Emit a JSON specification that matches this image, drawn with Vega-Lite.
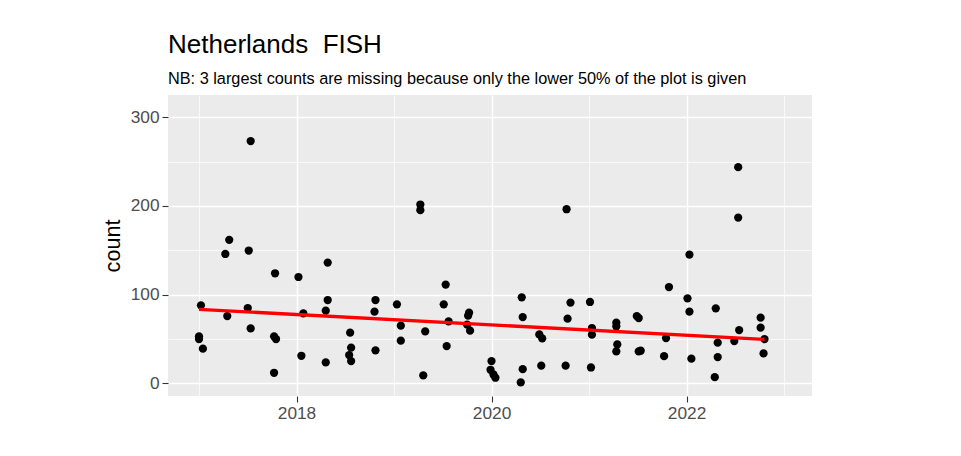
{
  "$schema": "https://vega.github.io/schema/vega-lite/v6.json",
  "width": 644,
  "height": 301,
  "autosize": {"type": "none"},
  "padding": {"left": 168, "top": 95, "right": 149, "bottom": 60},
  "background": "white",
  "title": {
    "text": "Netherlands \u00a0FISH",
    "subtitle": "NB: 3 largest counts are missing because only the lower 50% of the plot is given",
    "anchor": "start",
    "frame": "group",
    "font": "Liberation Sans",
    "fontSize": 26,
    "fontWeight": "normal",
    "color": "black",
    "subtitleFont": "Liberation Sans",
    "subtitleFontSize": 16.3,
    "subtitleColor": "black",
    "offset": 8,
    "subtitlePadding": 13
  },
  "config": {
    "view": {"fill": "#EBEBEB", "stroke": null},
    "axis": {
      "domain": false,
      "gridColor": "white",
      "tickColor": "#333333",
      "tickSize": 6,
      "tickWidth": 1.1,
      "labelFont": "Liberation Sans",
      "labelFontSize": 17.3,
      "labelColor": "#4D4D4D",
      "titleFont": "Liberation Sans",
      "titleFontSize": 21.6,
      "titleFontWeight": "normal",
      "titleColor": "black"
    }
  },
  "layer": [
    {
      "data": {"values": [
        {"year": 2017.53, "count": 273.2},
        {"year": 2017.31, "count": 161.7},
        {"year": 2017.27, "count": 145.8},
        {"year": 2017.51, "count": 149.7},
        {"year": 2017.78, "count": 124.0},
        {"year": 2018.02, "count": 119.8},
        {"year": 2018.32, "count": 136.1},
        {"year": 2017.02, "count": 87.8},
        {"year": 2017.50, "count": 84.8},
        {"year": 2017.29, "count": 75.7},
        {"year": 2017.53, "count": 61.8},
        {"year": 2017.00, "count": 52.8},
        {"year": 2017.00, "count": 49.8},
        {"year": 2017.04, "count": 38.9},
        {"year": 2017.77, "count": 52.8},
        {"year": 2017.79, "count": 49.8},
        {"year": 2017.77, "count": 11.7},
        {"year": 2018.07, "count": 78.8},
        {"year": 2018.05, "count": 30.9},
        {"year": 2018.32, "count": 93.8},
        {"year": 2018.30, "count": 81.8},
        {"year": 2018.30, "count": 23.4},
        {"year": 2018.55, "count": 57.0},
        {"year": 2018.56, "count": 40.0},
        {"year": 2018.54, "count": 31.7},
        {"year": 2018.56, "count": 24.9},
        {"year": 2018.81, "count": 93.8},
        {"year": 2018.80, "count": 80.7},
        {"year": 2018.81, "count": 37.0},
        {"year": 2019.27, "count": 201.6},
        {"year": 2019.27, "count": 195.2},
        {"year": 2019.03, "count": 89.0},
        {"year": 2019.07, "count": 64.9},
        {"year": 2019.07, "count": 47.9},
        {"year": 2019.30, "count": 8.7},
        {"year": 2019.32, "count": 58.4},
        {"year": 2019.53, "count": 111.2},
        {"year": 2019.51, "count": 89.0},
        {"year": 2019.56, "count": 69.7},
        {"year": 2019.54, "count": 41.8},
        {"year": 2019.77, "count": 79.5},
        {"year": 2019.76, "count": 76.2},
        {"year": 2019.75, "count": 66.0},
        {"year": 2019.78, "count": 59.2},
        {"year": 2020.00, "count": 24.9},
        {"year": 2019.99, "count": 15.1},
        {"year": 2020.02, "count": 9.8},
        {"year": 2020.04, "count": 6.1},
        {"year": 2020.31, "count": 96.9},
        {"year": 2020.32, "count": 74.6},
        {"year": 2020.32, "count": 15.8},
        {"year": 2020.30, "count": 0.8},
        {"year": 2020.49, "count": 55.0},
        {"year": 2020.52, "count": 50.5},
        {"year": 2020.51, "count": 19.7},
        {"year": 2020.77, "count": 196.3},
        {"year": 2020.81, "count": 90.9},
        {"year": 2020.78, "count": 72.8},
        {"year": 2020.76, "count": 19.7},
        {"year": 2021.01, "count": 91.6},
        {"year": 2021.03, "count": 62.2},
        {"year": 2021.03, "count": 54.7},
        {"year": 2021.02, "count": 17.7},
        {"year": 2021.28, "count": 68.3},
        {"year": 2021.28, "count": 64.1},
        {"year": 2021.29, "count": 43.7},
        {"year": 2021.28, "count": 35.8},
        {"year": 2021.49, "count": 75.7},
        {"year": 2021.51, "count": 73.5},
        {"year": 2021.51, "count": 35.8},
        {"year": 2021.53, "count": 36.6},
        {"year": 2021.82, "count": 108.5},
        {"year": 2021.79, "count": 50.9},
        {"year": 2021.77, "count": 30.5},
        {"year": 2022.03, "count": 145.1},
        {"year": 2022.01, "count": 95.7},
        {"year": 2022.03, "count": 80.7},
        {"year": 2022.05, "count": 27.6},
        {"year": 2022.30, "count": 84.4},
        {"year": 2022.32, "count": 45.7},
        {"year": 2022.32, "count": 29.4},
        {"year": 2022.29, "count": 6.8},
        {"year": 2022.53, "count": 243.8},
        {"year": 2022.53, "count": 186.9},
        {"year": 2022.54, "count": 59.9},
        {"year": 2022.49, "count": 47.5},
        {"year": 2022.76, "count": 73.9},
        {"year": 2022.76, "count": 62.6},
        {"year": 2022.80, "count": 49.7},
        {"year": 2022.79, "count": 33.6}
      ]},
      "mark": {"type": "circle", "size": 68, "color": "black", "opacity": 1},
      "encoding": {
        "x": {
          "field": "year", "type": "quantitative",
          "scale": {"domain": [2016.682, 2023.287], "nice": false, "zero": false},
          "axis": {
            "title": null,
            "values": [2017, 2018, 2019, 2020, 2021, 2022, 2023],
            "format": "d",
            "labelPadding": 2,
            "labelExpr": "datum.value % 2 === 0 ? datum.label : ''",
            "gridWidth": {"condition": {"test": "datum.value % 2 === 0", "value": 1.4}, "value": 0.7},
            "tickOpacity": {"condition": {"test": "datum.value % 2 === 0", "value": 1}, "value": 0}
          }
        },
        "y": {
          "field": "count", "type": "quantitative",
          "scale": {"domain": [-14.5, 325.2], "nice": false, "zero": false},
          "axis": {
            "title": "count",
            "values": [0, 50, 100, 150, 200, 250, 300],
            "format": "d",
            "labelPadding": 3,
            "titlePadding": 6,
            "labelExpr": "datum.value % 100 === 0 ? datum.label : ''",
            "gridWidth": {"condition": {"test": "datum.value % 100 === 0", "value": 1.4}, "value": 0.7},
            "tickOpacity": {"condition": {"test": "datum.value % 100 === 0", "value": 1}, "value": 0}
          }
        }
      }
    },
    {
      "data": {"values": [
        {"year": 2017.0, "count": 83.3},
        {"year": 2022.8, "count": 49.4}
      ]},
      "mark": {"type": "line", "color": "#FF0000", "strokeWidth": 3.3},
      "encoding": {
        "x": {"field": "year", "type": "quantitative"},
        "y": {"field": "count", "type": "quantitative"}
      }
    }
  ]
}
